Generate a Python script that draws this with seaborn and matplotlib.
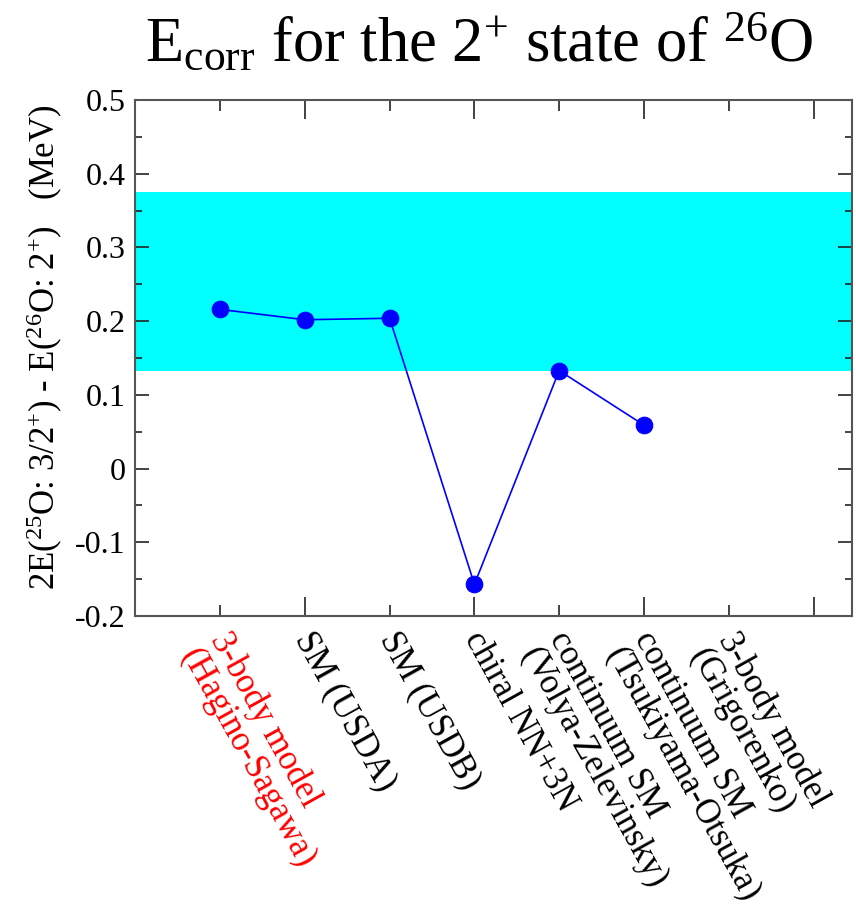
import matplotlib
matplotlib.use('Agg')
import matplotlib.pyplot as plt
from matplotlib.ticker import MultipleLocator, FixedLocator
import seaborn as sns
import pandas as pd

# data
models = ['3-body model\n(Hagino-Sagawa)', 'SM (USDA)', 'SM (USDB)', 'chiral NN+3N',
          'continuum SM\n(Volya-Zelevinsky)', 'continuum SM\n(Tsukiyama-Otsuka)',
          '3-body model\n(Grigorenko)']
e_corr = [0.216, 0.202, 0.204, -0.157, 0.133, 0.059]
band_lo = 0.133
band_hi = 0.375

sns.set_style('ticks')
plt.rcParams['font.family'] = ['Liberation Serif', 'DejaVu Serif']
plt.rcParams['mathtext.fontset'] = 'custom'
plt.rcParams['mathtext.rm'] = 'Liberation Serif'
plt.rcParams['mathtext.it'] = 'Liberation Serif:italic'
plt.rcParams['text.color'] = 'black'
plt.rcParams['ytick.labelcolor'] = 'black'

fig = plt.figure(figsize=(8.56, 9.14), dpi=100)
ax = fig.add_axes([0.158, 0.326, 0.837, 0.5645])

ax.axhspan(band_lo, band_hi, color='#00ffff', lw=0, zorder=0)

df = pd.DataFrame({'pos': range(1, len(e_corr) + 1), 'val': e_corr})
sns.lineplot(data=df, x='pos', y='val', ax=ax, color='blue', lw=1.2,
             marker='o', markersize=12, markeredgecolor='blue', zorder=3)

ax.set_xlim(0, 8.45)
ax.set_ylim(-0.2, 0.5)
ax.yaxis.set_minor_locator(MultipleLocator(0.05))
ax.set_yticks([-0.2, -0.1, 0, 0.1, 0.2, 0.3, 0.4, 0.5])
ax.set_yticklabels(['-0.2', '-0.1', '0', '0.1', '0.2', '0.3', '0.4', '0.5'])
ax.xaxis.set_major_locator(FixedLocator([2, 4, 6, 8]))
ax.xaxis.set_minor_locator(FixedLocator([1, 3, 5, 7]))
ax.set_xticklabels([])
ax.tick_params(axis='both', which='both', direction='in', top=True, right=True,
               color='#222222', width=1.2)
ax.tick_params(axis='y', which='major', length=10, labelsize=23, pad=7)
ax.tick_params(axis='y', which='minor', length=5)
ax.tick_params(axis='x', which='major', length=14)
ax.tick_params(axis='x', which='minor', length=8)
for s in ax.spines.values():
    s.set_color('#555555')
    s.set_linewidth(1.5)
ax.set_xlabel('')
ax.set_ylabel('')

# rotated model names under the axis
for i, name in enumerate(models):
    ax.text(i + 1 + 0.14, -0.214, name, rotation=-61, rotation_mode='anchor',
            ha='left', va='top', fontsize=25, linespacing=1.0,
            color='red' if i == 0 else 'black', transform=ax.transData,
            clip_on=False)

fig.text(0.052, 0.62,
         r'2E($^{25}$O: 3/2$^{+}$) - E($^{26}$O: 2$^{+}$)   (MeV)',
         rotation=90, ha='center', va='center', fontsize=25)
fig.text(0.56, 0.951, r'E$_{\rm corr}$ for the 2$^{+}$ state of $^{26}$O',
         ha='center', va='center', fontsize=45)

fig.savefig('out.png', dpi=100)
